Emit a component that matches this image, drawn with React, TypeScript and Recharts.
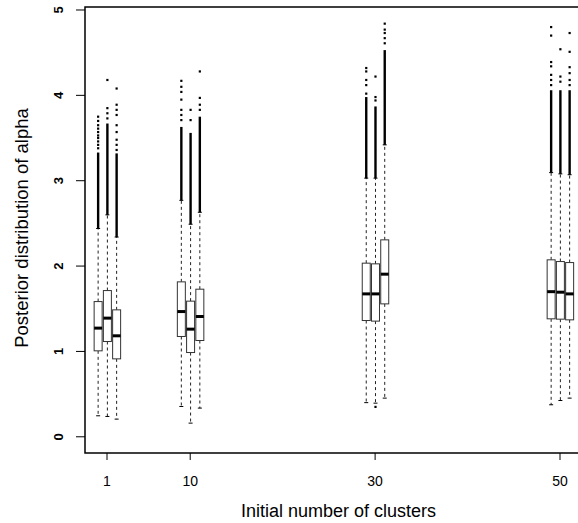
import { ComposedChart, Bar, XAxis, YAxis, ReferenceArea } from 'recharts';

// groups on the x axis and the three chains drawn around each group
const groupLabels = [1, 10, 30, 50];
const chainOffsets = [-1, 0, 1];

// box statistics, 12 boxes in order (group 1 a/b/c, group 10 a/b/c, ...)
const lowWhisker = [0.246, 0.238, 0.207, 0.355, 0.16, 0.336, 0.4, 0.394, 0.453, 0.375, 0.425, 0.453];
const q1 = [1.007, 1.116, 0.913, 1.175, 0.987, 1.128, 1.362, 1.355, 1.557, 1.382, 1.378, 1.37];
const median = [1.273, 1.39, 1.183, 1.467, 1.261, 1.409, 1.674, 1.674, 1.905, 1.7, 1.694, 1.674];
const q3 = [1.584, 1.713, 1.487, 1.815, 1.589, 1.729, 2.034, 2.026, 2.307, 2.073, 2.053, 2.041];
const highWhisker = [2.44, 2.6, 2.34, 2.77, 2.49, 2.63, 3.03, 3.03, 3.42, 3.095, 3.08, 3.07];
// outliers: a solid run above the whisker up to this value, then single points
const denseOutlierTop = [3.33, 3.67, 3.32, 3.63, 3.56, 3.75, 3.98, 3.87, 4.53, 4.06, 4.06, 4.06];
const sparseOutliers = [
    [3.38, 3.42, 3.46, 3.5, 3.53, 3.57, 3.61, 3.65, 3.7, 3.75],
    [3.73, 3.79, 3.85, 4.18],
    [3.36, 3.42, 3.48, 3.57, 3.65, 3.77, 3.83, 3.89, 4.08],
    [3.71, 3.77, 3.83, 3.95, 4.04, 4.1, 4.17],
    [3.71, 3.83],
    [3.83, 3.89, 3.97, 4.28],
    [4.02, 4.12, 4.18, 4.28, 4.32],
    [0.35, 3.94, 3.98, 4.22],
    [4.61, 4.67, 4.73, 4.77, 4.84],
    [4.12, 4.18, 4.24, 4.34, 4.39, 4.7, 4.8],
    [4.16, 4.22, 4.54],
    [4.12, 4.18, 4.26, 4.33, 4.51, 4.73],
];

const yTicks = [0, 1, 2, 3, 4, 5];
const xDomain = [-1.38, 53.46];
const yDomain = [-0.19, 5.035];

const data = groupLabels.flatMap((g, gi) =>
    chainOffsets.map((o, ci) => {
        const i = gi * 3 + ci;
        return {
            pos: g + o,
            range: [q1[i], q3[i]],
            lo: lowWhisker[i],
            q1: q1[i],
            med: median[i],
            q3: q3[i],
            hi: highWhisker[i],
            dense: denseOutlierTop[i],
            out: sparseOutliers[i],
        };
    })
);

const FONT = '"Liberation Sans", Arial, Helvetica, sans-serif';

function BoxShape(props: any) {
    const { x, y, width, height, payload } = props;
    if (payload == null || height == null) return null;
    const top = Math.min(y, y + height);
    const h = Math.abs(height);
    const k = h / (payload.q3 - payload.q1); // px per unit from the bar's own scale
    const toY = (v: number) => top + (payload.q3 - v) * k;
    const cx = x + width / 2;
    const bw = 4;
    return (
        <g>
            <line x1={cx} x2={cx} y1={toY(payload.q3)} y2={toY(payload.hi)} stroke="#222" strokeDasharray="3 3" />
            <line x1={cx} x2={cx} y1={toY(payload.q1)} y2={toY(payload.lo)} stroke="#222" strokeDasharray="3 3" />
            <line x1={cx - 2} x2={cx + 2} y1={toY(payload.hi)} y2={toY(payload.hi)} stroke="#000" />
            <line x1={cx - 2} x2={cx + 2} y1={toY(payload.lo)} y2={toY(payload.lo)} stroke="#000" />
            <line x1={cx} x2={cx} y1={toY(payload.hi)} y2={toY(payload.dense)} stroke="#000" strokeWidth={2.4} />
            {payload.out.map((v: number, j: number) => (
                <rect key={j} x={cx - 1.1} y={toY(v) - 1.1} width={2.2} height={2.2} fill="#000" />
            ))}
            <rect x={cx - bw} y={toY(payload.q3)} width={bw * 2} height={toY(payload.q1) - toY(payload.q3)} fill="#fff" stroke="#333" />
            <line x1={cx - bw} x2={cx + bw} y1={toY(payload.med)} y2={toY(payload.med)} stroke="#000" strokeWidth={3} />
        </g>
    );
}

const YTick = ({ x, y, payload }: any) => (
    <text x={x - 11} y={y} transform={`rotate(-90, ${x - 11}, ${y})`} textAnchor="middle"
        fontFamily={FONT} fontSize={13} fontWeight="bold" fill="#000">
        {payload.value}
    </text>
);

const XTick = ({ x, y, payload }: any) => (
    <text x={x} y={y + 24} textAnchor="middle" fontFamily={FONT} fontSize={14} fill="#000">
        {payload.value}
    </text>
);

const XTitle = () => (
    <text x={338.5} y={517} textAnchor="middle" fontFamily={FONT} fontSize={18} fill="#000">
        Initial number of clusters
    </text>
);

const YTitle = () => (
    <text x={28} y={228} transform="rotate(-90, 28, 228)" textAnchor="middle" fontFamily={FONT} fontSize={18.5} fill="#000">
        Posterior distribution of alpha
    </text>
);

export default function App() {
    return (
        <div style={{ position: 'absolute', left: 0, top: 0, width: 578, height: 523, overflow: 'hidden', background: '#fff' }}>
            <ComposedChart width={600} height={523} data={data} margin={{ top: 7, right: 8, bottom: 0, left: 0 }}>
                <XAxis type="number" dataKey="pos" domain={xDomain} ticks={groupLabels} allowDataOverflow
                    height={70} tickSize={7} axisLine={false} tickLine={{ stroke: '#000' }}
                    tick={<XTick />} label={<XTitle />} />
                <YAxis type="number" domain={yDomain} ticks={yTicks} allowDataOverflow
                    width={85} tickSize={9} axisLine={false} tickLine={{ stroke: '#000' }}
                    tick={<YTick />} label={<YTitle />} />
                <ReferenceArea x1={xDomain[0]} x2={xDomain[1]} y1={yDomain[0]} y2={yDomain[1]}
                    fill="none" stroke="#000" strokeWidth={1.5} fillOpacity={0} strokeOpacity={1} ifOverflow="visible" />
                <Bar dataKey="range" barSize={8} shape={<BoxShape />} isAnimationActive={false} />
            </ComposedChart>
        </div>
    );
}
